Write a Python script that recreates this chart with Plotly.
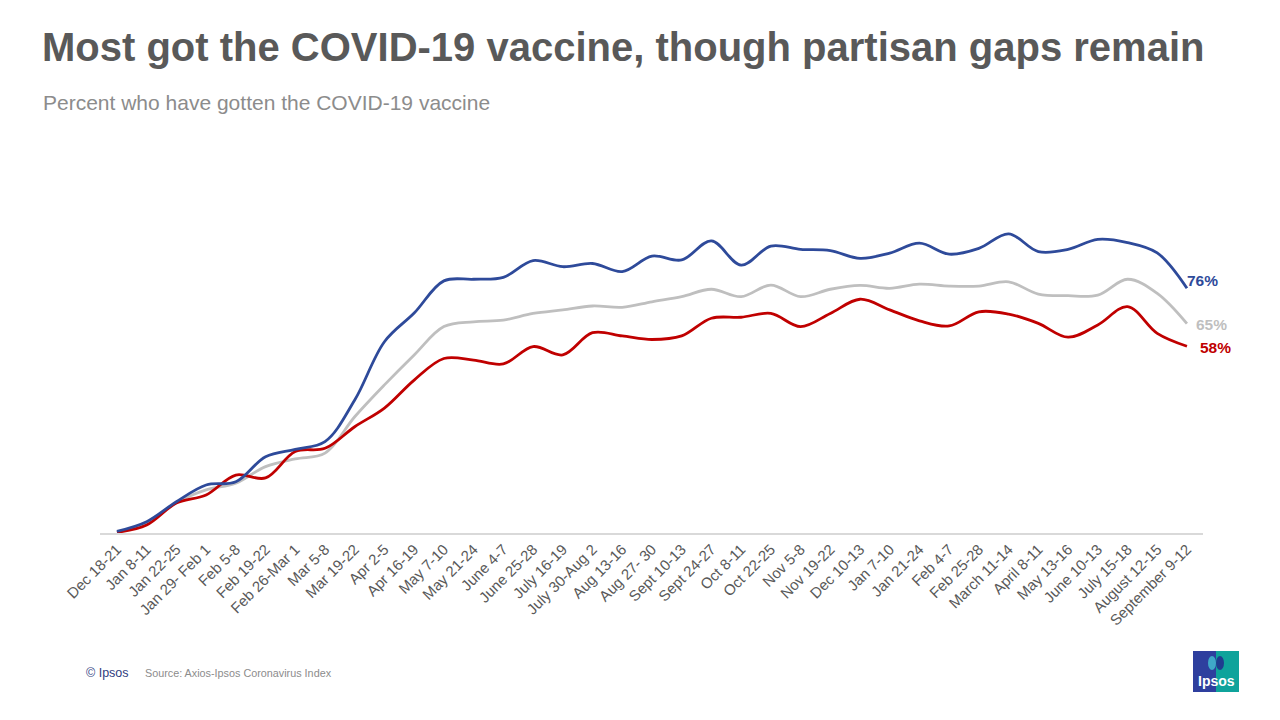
import plotly.graph_objects as go

categories = ["Dec 18-21", "Jan 8-11", "Jan 22-25", "Jan 29- Feb 1", "Feb 5-8", "Feb 19-22",
              "Feb 26-Mar 1", "Mar 5-8", "Mar 19-22", "Apr 2-5", "Apr 16-19", "May 7-10",
              "May 21-24", "June 4-7", "June 25-28", "July 16-19", "July 30-Aug 2", "Aug 13-16",
              "Aug 27- 30", "Sept 10-13", "Sept 24-27", "Oct 8-11", "Oct 22-25", "Nov 5-8",
              "Nov 19-22", "Dec 10-13", "Jan 7-10", "Jan 21-24", "Feb 4-7", "Feb 25-28",
              "March 11-14", "April 8-11", "May 13-16", "June 10-13", "July 15-18",
              "August 12-15", "September 9-12"]

democrats = [0.5, 3.5, 9.7, 14.9, 15.9, 23.7, 26.0, 28.4, 41.3, 59.4, 68.3, 78.3,
             78.8, 79.4, 84.6, 82.7, 83.7, 81.2, 86.0, 84.8, 90.7, 83.2, 89.1, 88.1,
             87.7, 85.3, 86.9, 90.0, 86.6, 88.4, 92.9, 87.4, 88.1, 91.2, 90.2, 87.0, 76]
all_adults = [0.3, 3.0, 9.5, 13.4, 15.5, 20.6, 23.0, 24.8, 36.1, 46.0, 55.3, 64.1,
              65.6, 66.1, 68.2, 69.3, 70.5, 70.1, 71.8, 73.4, 75.7, 73.4, 77.0, 73.4,
              75.7, 76.9, 76.0, 77.3, 76.7, 76.7, 78.0, 74.2, 73.7, 73.9, 78.8, 74.4, 65]
republicans = [0.2, 2.5, 9.3, 11.8, 18.0, 17.1, 25.3, 26.3, 33.0, 38.8, 47.5, 54.2,
               53.7, 52.5, 57.9, 55.3, 62.2, 61.2, 60.1, 61.2, 66.7, 67.0, 68.2, 64.1,
               68.2, 72.6, 69.3, 65.9, 64.3, 68.7, 68.0, 65.1, 60.8, 64.6, 70.3, 62.0, 58]

series = [
    ("All adults", all_adults, "#BFBFBF", "65%", 7, -1),
    ("Republicans", republicans, "#C00000", "58%", 11, -1),
    ("Democrats", democrats, "#2E4A9A", "76%", -2, 8),
]

xs = list(range(len(categories)))
fig = go.Figure()
for name, vals, color, lab, shift, yshift in series:
    fig.add_trace(go.Scatter(x=xs, y=vals, mode="lines", name=name,
                             line=dict(color=color, width=2.8, shape="spline", smoothing=1.0),
                             hoverinfo="skip"))
    fig.add_annotation(x=xs[-1], y=vals[-1], xref="x", yref="y", text="<b>%s</b>" % lab,
                       showarrow=False, xanchor="left", yanchor="middle", xshift=shift,
                       yshift=yshift,
                       font=dict(family="Liberation Sans, Arial", size=15.5, color=color))

fig.update_layout(
    width=1280, height=720,
    margin=dict(l=100, r=77, t=211, b=187),
    paper_bgcolor="white", plot_bgcolor="white",
    showlegend=False,
    font=dict(family="Liberation Sans, Arial", color="#595959"),
    title=dict(text="<b>Most got the COVID-19 vaccine, though partisan gaps remain</b>",
               xref="container", yref="container", x=42/1280, xanchor="left",
               y=1-47/720, yanchor="middle",
               font=dict(family="Liberation Sans, Arial", size=40, color="#595959")),
    xaxis=dict(tickmode="array", tickvals=xs, ticktext=categories, tickangle=-45,
               range=[-0.57, 36.54], showgrid=False, zeroline=False,
               showline=True, linecolor="#D9D9D9", linewidth=1.5, ticks="",
               tickfont=dict(size=15, color="#595959")),
    yaxis=dict(range=[0, 100], showgrid=False, zeroline=False, showticklabels=False,
               showline=False),
)

def px(xp):
    return (xp-100)/1103
def py(yp):
    return (533-yp)/322

fig.add_annotation(text="Percent who have gotten the COVID-19 vaccine", xref="paper", yref="paper",
                   x=px(41), y=py(102), xanchor="left", yanchor="middle",
                   showarrow=False, font=dict(size=21, color="#8C8C8C"))
fig.add_annotation(text="© Ipsos", xref="paper", yref="paper",
                   x=px(84), y=py(673), xanchor="left", yanchor="middle",
                   showarrow=False, font=dict(size=12.5, color="#2F3C7E"))
fig.add_annotation(text="Source: Axios-Ipsos Coronavirus Index", xref="paper", yref="paper",
                   x=px(143), y=py(673), xanchor="left", yanchor="middle",
                   showarrow=False, font=dict(size=10.8, color="#8C8C8C"))

# Ipsos logo block
fig.add_shape(type="rect", xref="paper", yref="paper", x0=px(1193), x1=px(1216), y0=py(692), y1=py(651),
              fillcolor="#2E3F9E", line=dict(width=0), layer="above")
fig.add_shape(type="rect", xref="paper", yref="paper", x0=px(1216), x1=px(1239), y0=py(692), y1=py(651),
              fillcolor="#0FA39B", line=dict(width=0), layer="above")
fig.add_shape(type="circle", xref="paper", yref="paper", x0=px(1208), x1=px(1216), y0=py(670), y1=py(656),
              fillcolor="#3FA8C8", line=dict(width=0), layer="above")
fig.add_shape(type="circle", xref="paper", yref="paper", x0=px(1216), x1=px(1224), y0=py(670), y1=py(656),
              fillcolor="#1F3D8F", line=dict(width=0), layer="above")
fig.add_annotation(text="<b>Ipsos</b>", xref="paper", yref="paper", x=px(1216), y=py(681),
                   xanchor="center", yanchor="middle", showarrow=False,
                   font=dict(size=14, color="white"))

fig.write_html("out.html", config={"displayModeBar": False},
               post_script="document.body.style.margin='0px';")
